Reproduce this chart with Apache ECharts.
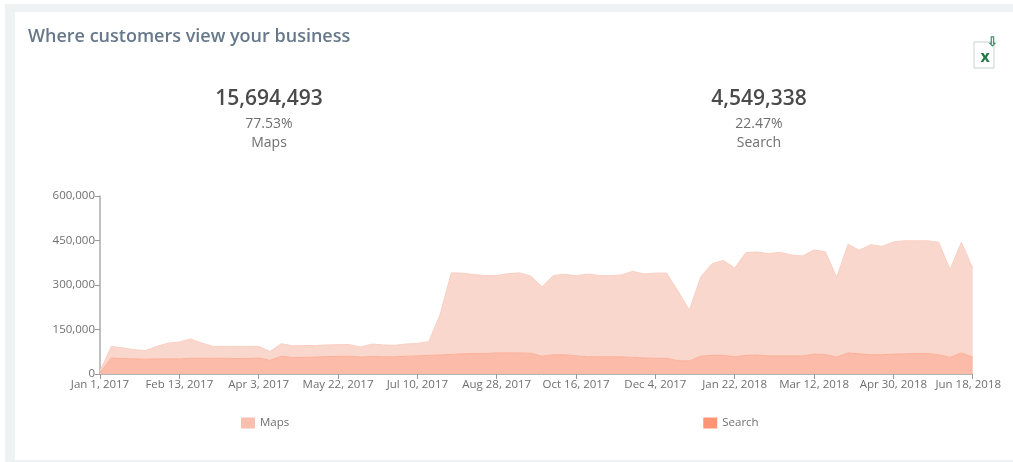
<!DOCTYPE html>
<html><head><meta charset="utf-8">
<script src="https://cdn.jsdelivr.net/npm/echarts@6/dist/echarts.min.js"></script>
<style>
html,body{margin:0;padding:0;background:#fff;width:1013px;height:462px;overflow:hidden}
#frame{position:absolute;left:5px;top:4px;width:1008px;height:458px;background:#eef2f2}
#chart{position:absolute;left:0;top:0;width:1013px;height:462px}
</style></head><body>
<div id="frame"></div>
<div id="card" style="position:absolute;left:15px;top:12px;width:998px;height:448px;background:#fff"></div>
<div id="chart"></div>
<script>
const weeks = ['Jan 1, 2017','Jan 2, 2017','Jan 9, 2017','Jan 16, 2017','Jan 23, 2017','Jan 30, 2017','Feb 6, 2017','Feb 13, 2017','Feb 20, 2017','Feb 27, 2017','Mar 6, 2017','Mar 13, 2017','Mar 20, 2017','Mar 27, 2017','Apr 3, 2017','Apr 10, 2017','Apr 17, 2017','Apr 24, 2017','May 1, 2017','May 8, 2017','May 15, 2017','May 22, 2017','May 29, 2017','Jun 5, 2017','Jun 12, 2017','Jun 19, 2017','Jun 26, 2017','Jul 3, 2017','Jul 10, 2017','Jul 17, 2017','Jul 24, 2017','Jul 31, 2017','Aug 7, 2017','Aug 14, 2017','Aug 21, 2017','Aug 28, 2017','Sep 4, 2017','Sep 11, 2017','Sep 18, 2017','Sep 25, 2017','Oct 2, 2017','Oct 9, 2017','Oct 16, 2017','Oct 23, 2017','Oct 30, 2017','Nov 6, 2017','Nov 13, 2017','Nov 20, 2017','Nov 27, 2017','Dec 4, 2017','Dec 11, 2017','Dec 18, 2017','Dec 25, 2017','Jan 1, 2018','Jan 8, 2018','Jan 15, 2018','Jan 22, 2018','Jan 29, 2018','Feb 5, 2018','Feb 12, 2018','Feb 19, 2018','Feb 26, 2018','Mar 5, 2018','Mar 12, 2018','Mar 19, 2018','Mar 26, 2018','Apr 2, 2018','Apr 9, 2018','Apr 16, 2018','Apr 23, 2018','Apr 30, 2018','May 7, 2018','May 14, 2018','May 21, 2018','May 28, 2018','Jun 4, 2018','Jun 11, 2018','Jun 18, 2018'];
const searchK = [5,54,52,51,50,51,51,51,53,53,53,53,52,52,54,46,60,56,56,57,59,59,60,57,59,58,58,60,61,63,64,66,68,69,69,71,71,71,70,60,65,65,61,58,58,58,58,56,54,53,53,45,44,60,63,63,58,63,64,61,61,61,61,67,66,57,71,68,65,65,67,68,69,69,65,56,71,57];
const mapsK = [5,39,36,31,29,42,53,57,65,51,40,40,41,41,39,30,42,39,40,39,39,40,39,34,42,40,39,41,42,46,136,275,272,266,263,261,267,270,260,234,267,271,270,279,274,273,276,290,283,287,287,234,171,267,309,320,299,347,347,345,349,340,337,351,346,269,366,349,371,365,378,381,380,380,379,296,373,300];
const summaries = [
  {total:'15,694,493', share:'77.53%', name:'Maps', x:269},
  {total:'4,549,338', share:'22.47%', name:'Search', x:759}
];
const titleText = 'Where customers view your business';
const font = '"Open Sans", sans-serif';
const chart = echarts.init(document.getElementById('chart'));
const txt = (x,y,text,size,fill,weight,align) => ({type:'text',x,y,silent:true,style:{text,fontFamily:font,fontSize:size,fill,fontWeight:weight||400,align:align||'center',verticalAlign:'middle'}});
const graphics = [txt(28,37,titleText,18,'#66788a',600,'left')];
summaries.forEach(s=>{
  graphics.push(txt(s.x,99.5,s.total,21,'#4a4a4a',600));
  graphics.push(txt(s.x,124,s.share,14,'#6f6f6f'));
  graphics.push(txt(s.x,143,s.name,14,'#6f6f6f'));
});
graphics.push({type:'rect',shape:{x:974,y:42,width:20,height:26},silent:true,style:{fill:'#fff',stroke:'#c9cfcf',lineWidth:1}});
graphics.push(txt(985,57,'x',16,'#1f7a45',700));
graphics.push(txt(992,42,'⇩',13,'#3f8f66',700));
chart.setOption({
  animation:false,
  textStyle:{fontFamily:font},
  grid:{left:100,right:40,top:196,bottom:88,containLabel:false},
  legend:{left:236,top:412,itemWidth:14,itemHeight:11,itemGap:414,icon:'rect',data:['Maps','Search'],textStyle:{color:'#6f6f6f',fontSize:11.5,fontFamily:font}},
  xAxis:{type:'category',data:weeks,boundaryGap:false,
    axisLine:{lineStyle:{color:'#b0b4b6',width:1}},
    axisTick:{interval:6,length:5,lineStyle:{color:'#9a9a9a'}},
    axisLabel:{interval:6,color:'#6f6f6f',fontSize:11.5,margin:5,hideOverlap:false,
      formatter:v=>v===weeks[weeks.length-1]?v+'\u00a0\u00a0\u00a0':v}},
  yAxis:{type:'value',min:0,max:600000,interval:150000,
    splitLine:{show:false},
    axisLine:{show:true,lineStyle:{color:'#a8acae',width:1.5}},
    axisTick:{show:true,length:5,lineStyle:{color:'#9a9a9a'}},
    axisLabel:{color:'#6f6f6f',fontSize:11.5,margin:5,padding:[3,0,0,0],formatter:v=>v.toLocaleString('en-US')}},
  series:[
    {name:'Search',type:'line',stack:'total',symbol:'none',data:searchK.map(v=>v*1000),
      itemStyle:{color:'#fd9474'},lineStyle:{color:'#fbb09a',width:1},areaStyle:{color:'#fbbba8',opacity:1}},
    {name:'Maps',type:'line',stack:'total',symbol:'none',data:mapsK.map(v=>v*1000),
      itemStyle:{color:'#f9bfae'},lineStyle:{color:'#f9cfc3',width:1},areaStyle:{color:'#fad7cd',opacity:1}}
  ],
  graphic:graphics
});
</script></body></html>
